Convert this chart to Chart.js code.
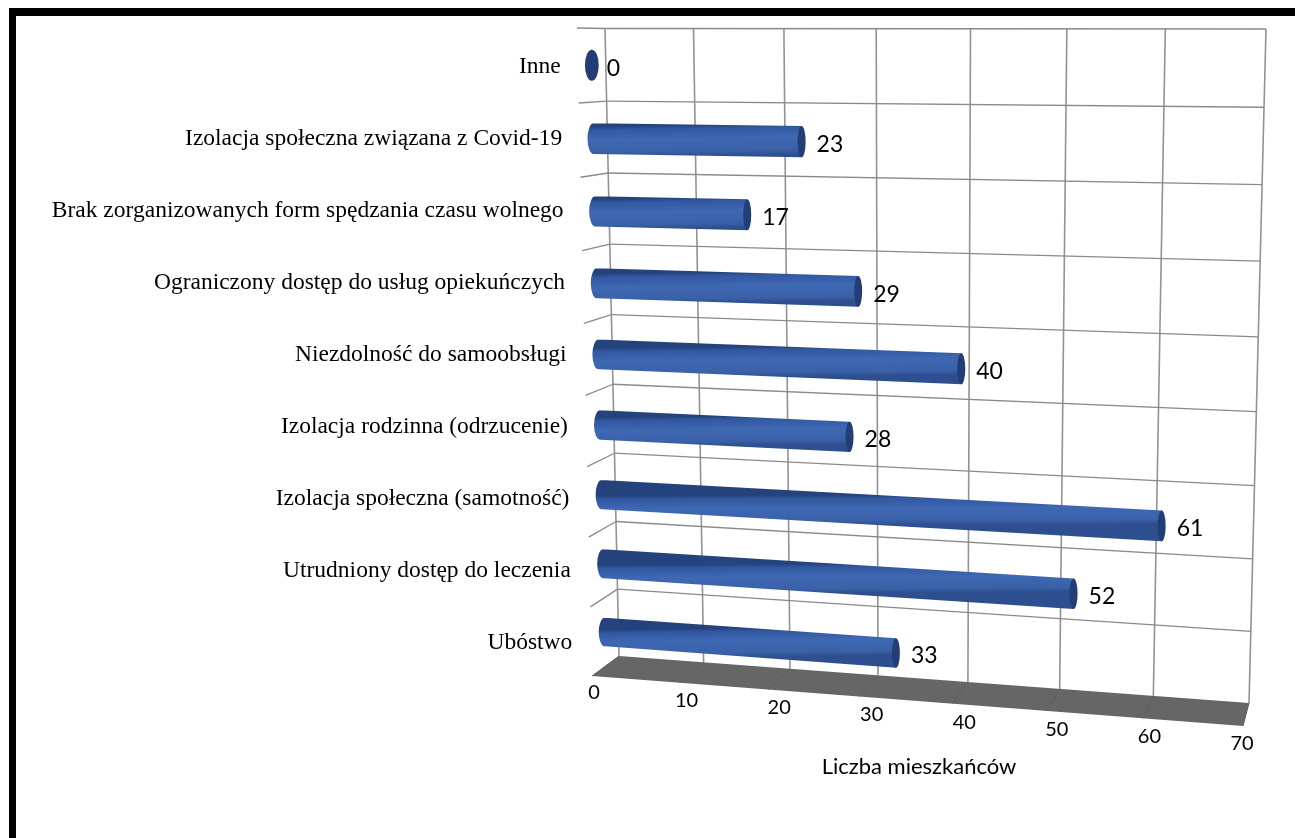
<!DOCTYPE html>
<html>
<head>
<meta charset="utf-8">
<script src="https://cdn.jsdelivr.net/npm/chart.js@4"></script>
<style>
  html, body { margin: 0; background: #fff; overflow: hidden; }
  #frame { position: absolute; left: 9px; top: 8px; width: 1286px; height: 830px;
           border-left: 7px solid #000; border-top: 8px solid #000; box-sizing: border-box; }
  canvas { position: absolute; left: 0; top: 0; }
</style>
</head>
<body>
<div id="frame"></div>
<canvas id="myChart" width="1295" height="838"></canvas>
<script>
var categories = ['Inne', 'Izolacja społeczna związana z Covid-19', 'Brak zorganizowanych form spędzania czasu wolnego',
    'Ograniczony dostęp do usług opiekuńczych', 'Niezdolność do samoobsługi', 'Izolacja rodzinna (odrzucenie)',
    'Izolacja społeczna (samotność)', 'Utrudniony dostęp do leczenia', 'Ubóstwo'];
var residents = [0, 23, 17, 29, 40, 28, 61, 52, 33];
var axisTitle = 'Liczba mieszkańców';

// corners of the 3d box as seen in the picture: TL, TR, BR, BL
var backWall = [[605, 28.5], [1266, 29], [1249, 703], [619, 656]];
var frontWall = [[577, 28], [1260, 29], [1243, 726], [592, 676]];

// maps the unit square on a quad (perspective)
function quadMap(q) {
    var x0 = q[0][0], y0 = q[0][1], x1 = q[1][0], y1 = q[1][1];
    var x2 = q[2][0], y2 = q[2][1], x3 = q[3][0], y3 = q[3][1];
    var dx1 = x1 - x2, dx2 = x3 - x2, sx = x0 - x1 + x2 - x3;
    var dy1 = y1 - y2, dy2 = y3 - y2, sy = y0 - y1 + y2 - y3;
    var det = dx1 * dy2 - dx2 * dy1;
    var g = (sx * dy2 - dx2 * sy) / det, h = (dx1 * sy - sx * dy1) / det;
    var a = x1 - x0 + g * x1, b = x3 - x0 + h * x3;
    var d = y1 - y0 + g * y1, e = y3 - y0 + h * y3;
    return function (u, v) {
        var w = g * u + h * v + 1;
        return [(a * u + b * v + x0) / w, (d * u + e * v + y0) / w];
    };
}
var back = quadMap(backWall), front = quadMap(frontWall);

var box3d = {
    id: 'box3d',
    // px, py are pixels of the flat chart area, depth 0 = back wall, 1 = front
    warp: function (chart, px, py, depth) {
        var a = chart.chartArea;
        var u = (px - a.left) / (a.right - a.left), v = (py - a.top) / (a.bottom - a.top);
        var p = back(u, v), q = front(u, v);
        return [p[0] + (q[0] - p[0]) * depth, p[1] + (q[1] - p[1]) * depth];
    },
    line: function (ctx, a, b) {
        ctx.beginPath();
        ctx.moveTo(a[0], a[1]);
        ctx.lineTo(b[0], b[1]);
        ctx.stroke();
    },
    beforeDatasetsDraw: function (chart) {
        var ctx = chart.ctx, area = chart.chartArea, x = chart.scales.x, self = this;
        var w = function (px, py, d) { return self.warp(chart, px, py, d); };
        ctx.save();

        // floor
        ctx.fillStyle = '#666666';
        ctx.beginPath();
        [w(area.left, area.bottom, 0), w(area.right, area.bottom, 0), w(area.right, area.bottom, 1), w(area.left, area.bottom, 1)]
            .forEach(function (p) { ctx.lineTo(p[0], p[1]); });
        ctx.closePath();
        ctx.fill();

        // value gridlines on the back wall + floor
        x.ticks.forEach(function (t) {
            var px = x.getPixelForValue(t.value);
            ctx.strokeStyle = '#939393';
            ctx.lineWidth = 1.6;
            self.line(ctx, w(px, area.top, 0), w(px, area.bottom, 0));
            ctx.strokeStyle = '#5d5d5d';
            ctx.lineWidth = 1;
            self.line(ctx, w(px, area.bottom, 0), w(px, area.bottom, 1));
        });

        // category separators, back wall + left wall
        ctx.strokeStyle = '#8a8a8a';
        ctx.lineWidth = 1.3;
        for (var i = 0; i < categories.length; i++) {
            var py = area.top + (area.bottom - area.top) * i / categories.length;
            self.line(ctx, w(area.left, py, 0), w(area.right, py, 0));
            self.line(ctx, w(area.left, py, 0), w(area.left, py, 1));
        }
        ctx.restore();
    },
    afterDatasetsDraw: function (chart) {
        var ctx = chart.ctx, area = chart.chartArea, x = chart.scales.x, self = this;
        var w = function (px, py, d) { return self.warp(chart, px, py, d); };
        var meta = chart.getDatasetMeta(0);
        ctx.save();

        meta.data.forEach(function (bar, i) {
            var top = bar.y - bar.height / 2, bottom = bar.y + bar.height / 2;
            var end = w(bar.x, bar.y, 0.5), endT = w(bar.x, top, 0.5), endB = w(bar.x, bottom, 0.5);
            var start = w(bar.base, bar.y, 0.5), startT = w(bar.base, top, 0.5), startB = w(bar.base, bottom, 0.5);
            var ry = (endB[1] - endT[1]) / 2;
            var capRx = 4 + Math.max(0, 650 - end[0]) * 0.05;
            var baseRx = 6;

            if (residents[i] > 0) {
                var mid = w((bar.x + bar.base) / 2, top, 0.5), midB = w((bar.x + bar.base) / 2, bottom, 0.5);
                var grad = ctx.createLinearGradient(mid[0], mid[1], midB[0], midB[1]);
                grad.addColorStop(0, '#24427c');
                grad.addColorStop(0.12, '#3158a0');
                grad.addColorStop(0.45, '#3f68b3');
                grad.addColorStop(0.85, '#3a61a8');
                grad.addColorStop(1, '#2d4f90');
                ctx.fillStyle = grad;
                ctx.beginPath();
                ctx.moveTo(startT[0], startT[1]);
                ctx.lineTo(endT[0], endT[1]);
                ctx.lineTo(endB[0], endB[1]);
                ctx.lineTo(startB[0], startB[1]);
                ctx.ellipse(start[0], start[1], baseRx, (startB[1] - startT[1]) / 2, 0, Math.PI / 2, Math.PI * 1.5);
                ctx.closePath();
                ctx.fill();
            }
            // end cap
            ctx.fillStyle = '#223e74';
            ctx.beginPath();
            ctx.ellipse(end[0], end[1], capRx, ry, 0, 0, Math.PI * 2);
            ctx.fill();

            // value label
            ctx.fillStyle = '#000';
            ctx.font = '23px Lato';
            ctx.textAlign = 'left';
            ctx.textBaseline = 'middle';
            ctx.fillText(residents[i], end[0] + 15, end[1] + 3);

            // category labels run straight, not in perspective
            var f = (bar.y - area.top) / (area.bottom - area.top);
            ctx.font = '23.5px "Liberation Serif"';
            ctx.textAlign = 'right';
            ctx.fillText(categories[i], 560 + 13 * f, 31 + 648 * f);
        });

        // value axis labels under the floor, evenly spaced
        ctx.font = '20px Lato';
        ctx.textAlign = 'center';
        ctx.textBaseline = 'middle';
        ctx.fillStyle = '#000';
        x.ticks.forEach(function (t) {
            var f = (x.getPixelForValue(t.value) - area.left) / (area.right - area.left);
            ctx.fillText(t.label, 594 + 648 * f, 693 + 51 * f);
        });
        ctx.font = '22px Lato';
        ctx.fillText(axisTitle, 919, 767);
        ctx.restore();
    }
};

var myChart = new Chart(document.getElementById('myChart').getContext('2d'), {
    type: 'bar',
    data: {
        labels: categories,
        datasets: [{
            label: axisTitle,
            data: residents,
            backgroundColor: 'transparent',
            barPercentage: 0.42,
            categoryPercentage: 1
        }]
    },
    options: {
        indexAxis: 'y',
        responsive: false,
        animation: false,
        plugins: { legend: { display: false }, tooltip: { enabled: false } },
        scales: {
            x: { display: false, min: 0, max: 70, ticks: { stepSize: 10 } },
            y: { display: false }
        }
    },
    plugins: [box3d]
});
</script>
</body>
</html>
